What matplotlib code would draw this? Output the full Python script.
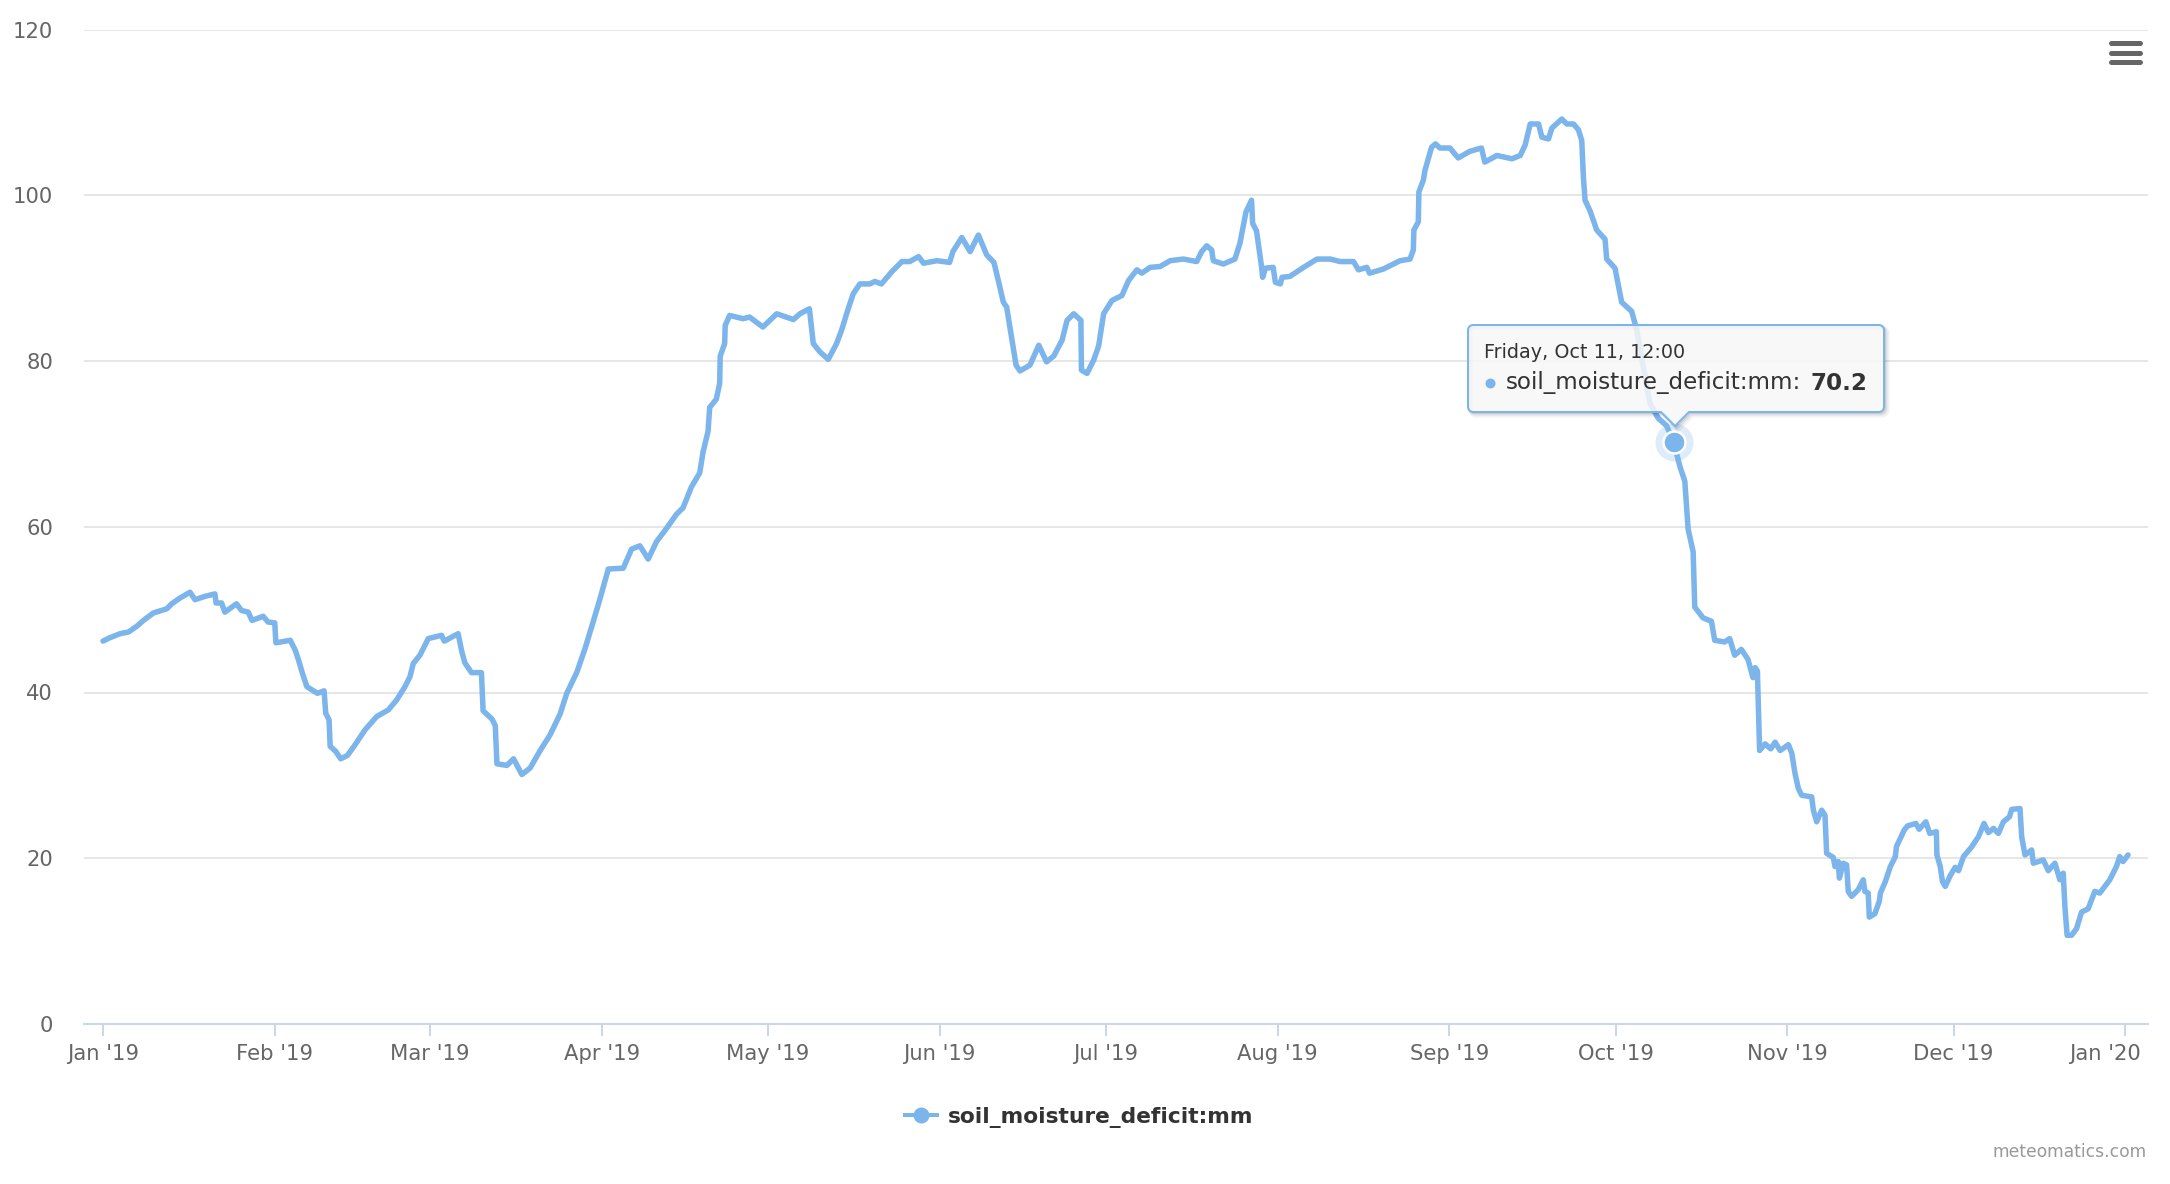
import matplotlib
matplotlib.use("Agg")
import matplotlib.pyplot as plt
import matplotlib.dates as mdates
from matplotlib.lines import Line2D
from matplotlib.patches import Polygon
from matplotlib.text import Annotation
from matplotlib.transforms import ScaledTranslation
import numpy as np
import pandas as pd

# tamaño de salida en pixeles
W, H = 2170, 1184
DPI = 100

# ---- datos (dias desde 2019-01-01, mm) ----
inicio = pd.Timestamp("2019-01-01")

dias = [
    0.0, 1.2, 3.1, 4.6, 6.1, 7.3, 9.1, 11.5, 12.4, 13.9, 15.7, 16.6, 18.4, 20.2, 20.4,
    21.4, 22.0, 24.1, 25.0, 26.2, 26.9, 28.9, 29.8, 31.0, 31.2, 33.8, 34.7, 35.3, 36.0,
    36.8, 38.7, 39.9, 40.2, 40.8, 41.0, 42.0, 42.9, 44.1, 45.3, 47.3, 49.4, 51.5, 53.0,
    54.5, 55.4, 56.0, 57.2, 58.7, 61.1, 61.6, 64.1, 64.7, 65.3, 66.5, 68.3, 68.6, 70.2,
    70.8, 71.1, 72.9, 74.1, 75.6, 77.1, 78.9, 80.7, 82.5, 83.7, 85.5, 87.0, 88.5, 89.7,
    91.2, 93.9, 95.4, 96.9, 98.4, 99.9, 101.7, 103.5, 104.7, 106.2, 107.7, 108.3, 109.2,
    109.5, 110.7, 111.3, 111.4, 112.2, 112.3, 113.1, 115.5, 116.7, 119.1, 121.6, 124.6,
    125.8, 127.5, 128.2, 129.4, 130.9, 132.4, 133.3, 134.4, 135.4, 136.6, 138.4, 139.3,
    140.5, 142.4, 144.2, 145.6, 147.2, 148.1, 150.5, 152.8, 153.4, 155.0, 156.5, 158.0,
    159.5, 160.8, 161.6, 162.5, 163.1, 164.8, 165.5, 167.3, 168.9, 170.3, 171.6, 173.1,
    174.0, 175.2, 176.5, 176.6, 177.6, 178.8, 179.7, 180.6, 182.1, 183.9, 185.1, 186.6,
    187.5, 189.0, 190.8, 192.6, 195.0, 197.4, 198.3, 199.2, 200.1, 200.4, 202.2, 204.3,
    205.2, 206.3, 207.3, 207.5, 208.2, 209.1, 209.3, 209.8, 211.2, 211.6, 212.5, 212.8,
    214.2, 216.7, 219.1, 221.5, 223.3, 225.7, 226.6, 228.1, 228.6, 231.1, 232.9, 234.1,
    235.9, 236.5, 236.6, 237.4, 237.5, 238.3, 238.6, 239.8, 240.5, 241.3, 243.1, 244.6,
    246.7, 248.8, 249.4, 251.6, 254.3, 255.8, 256.7, 257.6, 259.1, 259.7, 260.9, 261.5,
    263.3, 264.2, 265.4, 266.3, 266.9, 267.2, 267.5, 268.4, 269.6, 271.1, 271.4, 272.9,
    274.1, 275.9, 276.8, 278.0, 279.2, 280.7, 282.2, 283.5, 284.6, 285.5, 286.1, 287.0,
    287.3, 288.8, 290.3, 290.9, 292.7, 293.6, 294.5, 295.7, 296.9, 297.8, 298.2, 298.6,
    299.0, 300.0, 301.0, 301.8, 302.7, 304.2, 304.8, 305.4, 306.0, 306.6, 308.4, 308.7,
    309.3, 310.2, 310.8, 311.1, 312.3, 312.6, 313.2, 313.4, 314.1, 314.7, 315.0, 315.6,
    316.8, 317.7, 318.0, 318.6, 318.8, 319.8, 320.6, 320.8, 321.7, 322.6, 323.5, 323.7,
    325.1, 325.7, 327.2, 327.8, 329.0, 329.7, 330.9, 331.0, 331.6, 332.0, 332.5, 333.4,
    334.3, 334.9, 335.8, 337.3, 338.5, 339.5, 340.3, 341.2, 342.1, 343.0, 344.1, 344.5,
    346.0, 346.3, 346.9, 348.1, 348.4, 350.2, 351.1, 352.3, 353.2, 353.8, 354.1, 354.5,
    355.3, 356.2, 357.1, 358.3, 359.5, 360.4, 362.2, 363.4, 364.0, 364.6, 365.5,
]

deficit = [
    46.2, 46.6, 47.1, 47.3, 48.0, 48.7, 49.6, 50.1, 50.7, 51.4, 52.1, 51.2, 51.6, 51.9, 50.8,
    50.8, 49.7, 50.7, 49.9, 49.7, 48.7, 49.2, 48.5, 48.4, 46.0, 46.3, 45.1, 43.9, 42.3,
    40.7, 39.9, 40.2, 37.5, 36.7, 33.5, 32.9, 32.0, 32.4, 33.5, 35.5, 37.1, 37.9, 39.1,
    40.7, 41.9, 43.5, 44.5, 46.5, 46.9, 46.2, 47.1, 45.1, 43.6, 42.4, 42.4, 37.8, 36.8,
    36.0, 31.4, 31.2, 32.0, 30.1, 30.9, 33.0, 34.9, 37.4, 39.9, 42.4, 45.3, 48.6, 51.3,
    54.9, 55.0, 57.3, 57.7, 56.1, 58.2, 59.8, 61.5, 62.3, 64.8, 66.5, 69.0, 71.5,
    74.4, 75.4, 77.3, 80.6, 82.1, 84.3, 85.5, 85.1, 85.3, 84.1, 85.7, 85.0,
    85.7, 86.3, 82.1, 81.1, 80.2, 82.1, 83.7, 86.1, 88.1, 89.3, 89.3, 89.6,
    89.3, 90.8, 92.0, 92.0, 92.6, 91.8, 92.1, 91.9, 93.2, 94.9, 93.2, 95.2,
    92.8, 91.9, 89.7, 87.1, 86.5, 79.5, 78.8, 79.5, 81.9, 79.9, 80.6, 82.5,
    84.9, 85.7, 84.9, 78.9, 78.5, 80.1, 81.8, 85.7, 87.3, 87.9, 89.7, 91.0,
    90.6, 91.3, 91.4, 92.1, 92.3, 92.0, 93.2, 93.9, 93.4, 92.1, 91.7, 92.3,
    94.2, 98.0, 99.4, 96.6, 95.7, 91.4, 90.1, 91.2, 91.3, 89.5, 89.3, 90.1,
    90.2, 91.3, 92.3, 92.3, 92.0, 92.0, 91.0, 91.3, 90.6, 91.1, 91.7, 92.1,
    92.3, 93.4, 95.8, 96.8, 100.4, 101.8, 103.0, 105.8, 106.2, 105.7, 105.7, 104.5,
    105.3, 105.7, 104.0, 104.8, 104.4, 104.8, 106.1, 108.6, 108.6, 107.0, 106.8, 108.1,
    109.2, 108.6, 108.6, 107.9, 106.6, 102.1, 99.4, 98.1, 95.8, 94.7, 92.3, 91.2,
    87.1, 86.0, 83.8, 79.3, 74.9, 73.1, 72.2, 70.2, 67.3, 65.5, 59.7, 57.0,
    50.3, 49.0, 48.6, 46.3, 46.1, 46.5, 44.5, 45.2, 44.0, 41.8, 43.0, 42.6,
    33.0, 33.8, 33.2, 34.0, 33.0, 33.7, 32.7, 30.2, 28.4, 27.6, 27.4, 25.8,
    24.4, 25.8, 25.2, 20.6, 20.1, 19.0, 19.6, 17.6, 19.4, 19.2, 16.0, 15.4,
    16.2, 17.4, 16.0, 15.8, 12.9, 13.3, 14.8, 15.8, 17.2, 19.0, 20.2, 21.4,
    23.4, 23.9, 24.2, 23.5, 24.4, 23.0, 23.2, 20.4, 19.0, 17.2, 16.6, 17.9,
    18.9, 18.5, 20.2, 21.4, 22.6, 24.2, 23.1, 23.6, 23.0, 24.4, 25.0, 25.9,
    26.0, 22.6, 20.4, 21.0, 19.4, 19.8, 18.5, 19.4, 17.4, 18.2, 14.2, 10.7,
    10.7, 11.5, 13.5, 13.9, 16.0, 15.8, 17.4, 19.0, 20.2, 19.6, 20.4,
]

# punto con tooltip
dia_hover = 283.5
valor_hover = 70.2
encabezado_tooltip = "Friday, Oct 11, 12:00"
nombre_serie = "soil_moisture_deficit:mm"
credito = "meteomatics.com"

meses = pd.date_range("2019-01-01", "2020-01-01", freq="MS")
ticks_y = [0, 20, 40, 60, 80, 100, 120]

color_linea = "#7cb5ec"
gris_texto = "#666666"


def fx(x):
    return x / W


def fy(y):
    return 1 - y / H


def pt(pxs):
    # pixeles -> puntos
    return pxs * 72.0 / DPI


fig = plt.figure(figsize=(W / DPI, H / DPI), dpi=DPI)
ax = fig.add_axes([fx(84), fy(1024), (2148 - 84) / W, (1024 - 29.5) / H])

fechas = inicio + pd.to_timedelta(dias, unit="D")
ax.plot(fechas.to_pydatetime(), deficit, color=color_linea, lw=pt(5.5),
        solid_joinstyle="round", solid_capstyle="round", zorder=3)

# marcador resaltado (hover)
fecha_hover = (inicio + pd.Timedelta(days=dia_hover)).to_pydatetime()
ax.plot([fecha_hover], [valor_hover], "o", ms=pt(38), color=color_linea,
        alpha=0.25, mew=0, zorder=4)
ax.plot([fecha_hover], [valor_hover], "o", ms=pt(22), color=color_linea,
        mec="white", mew=pt(2.5), zorder=5)

ax.set_ylim(0, 120)
ax.set_xlim((inicio - pd.Timedelta(days=3.43)).to_pydatetime(),
            (inicio + pd.Timedelta(days=369.1)).to_pydatetime())

ax.set_yticks(ticks_y)
ax.set_xticks(mdates.date2num(meses.to_pydatetime()))
ax.xaxis.set_major_formatter(mdates.DateFormatter("%b '%y"))

ax.grid(axis="y", color="#e6e6e6", lw=pt(2), zorder=0)
ax.set_axisbelow(True)
for lado in ["top", "right", "left"]:
    ax.spines[lado].set_visible(False)
ax.spines["bottom"].set_color("#ccd6eb")
ax.spines["bottom"].set_linewidth(pt(2))
ax.spines["bottom"].set_zorder(2)

ax.tick_params(axis="x", direction="out", length=pt(12), width=pt(2),
               color="#ccd6eb", labelcolor=gris_texto, labelsize=15.2, pad=pt(8))
ax.tick_params(axis="y", length=0, labelcolor=gris_texto, labelsize=15.2, pad=pt(31))

# la ultima etiqueta queda dentro del area del grafico
etiquetas = ax.get_xticklabels()
etiquetas[-1].set_transform(etiquetas[-1].get_transform()
                            + ScaledTranslation(-20 / DPI, 0, fig.dpi_scale_trans))

# ---- tooltip ----
def caja_redondeada(x0, y0, x1, y1, r, base0, base1, punta):
    pts = []
    esquinas = [(x1 - r, y0 + r, -90, 0), (x1 - r, y1 - r, 0, 90),
                (x0 + r, y1 - r, 90, 180), (x0 + r, y0 + r, 180, 270)]
    for i, (cx, cy, a0, a1) in enumerate(esquinas):
        if i == 2:
            # borde inferior con la flecha
            pts.append((base1, y1))
            pts.append(punta)
            pts.append((base0, y1))
        for a in np.linspace(np.radians(a0), np.radians(a1), 6):
            pts.append((cx + r * np.cos(a), cy + r * np.sin(a)))
    return [(fx(x), fy(y)) for x, y in pts]


forma = caja_redondeada(1468, 325, 1884, 412, 5, 1661, 1689, (1675, 426))
# sombra: solo trazos desplazados
for dx, alfa, ancho in [(3, 0.05, 5), (2, 0.08, 3), (1, 0.12, 1.5)]:
    sombra = [(x + dx / W, y - dx / H) for x, y in forma]
    fig.add_artist(Polygon(sombra, closed=True, transform=fig.transFigure,
                           facecolor="none", edgecolor=(0, 0, 0, alfa),
                           lw=pt(ancho), zorder=8))
fig.add_artist(Polygon(forma, closed=True, transform=fig.transFigure,
                       facecolor=(0.969, 0.969, 0.969, 0.85), edgecolor=color_linea,
                       lw=pt(2), zorder=9))

fig.text(fx(1484), fy(353), encabezado_tooltip, fontsize=13.8, color="#333333",
         ha="left", va="center", zorder=10)
fig.add_artist(Line2D([fx(1490)], [fy(383)], marker="o", ms=pt(10), color=color_linea,
                      mew=0, transform=fig.transFigure, zorder=10))
t1 = fig.text(fx(1506), fy(383), nombre_serie + ":", fontsize=16.6, color="#333333",
              ha="left", va="center", zorder=10)
valor_txt = Annotation(f"{valor_hover}", xy=(1, 0.5), xycoords=t1, xytext=(pt(9), 0),
                       textcoords="offset points", ha="left", va="center",
                       fontsize=16.6, fontweight="bold", color="#333333",
                       annotation_clip=False)
valor_txt.set_zorder(10)
fig.add_artist(valor_txt)

# ---- leyenda ----
h = Line2D([], [], color=color_linea, lw=pt(4), marker="o", ms=pt(16), mew=0)
fig.legend(handles=[h], labels=[nombre_serie], loc="center",
           bbox_to_anchor=(fx(1079.5), fy(1117)), frameon=False,
           prop={"weight": "bold", "size": 15.7}, labelcolor="#333333",
           handlelength=1.47, handletextpad=0.5)

# credito
fig.text(fx(2147), fy(1152), credito, fontsize=12.3, color="#999999",
         ha="right", va="center")

# icono de menu
for yy in [43, 52.5, 62]:
    fig.add_artist(Line2D([fx(2111), fx(2140)], [fy(yy), fy(yy)], color=gris_texto,
                          lw=pt(5), solid_capstyle="round", transform=fig.transFigure))

fig.savefig("out.png", dpi=DPI)
